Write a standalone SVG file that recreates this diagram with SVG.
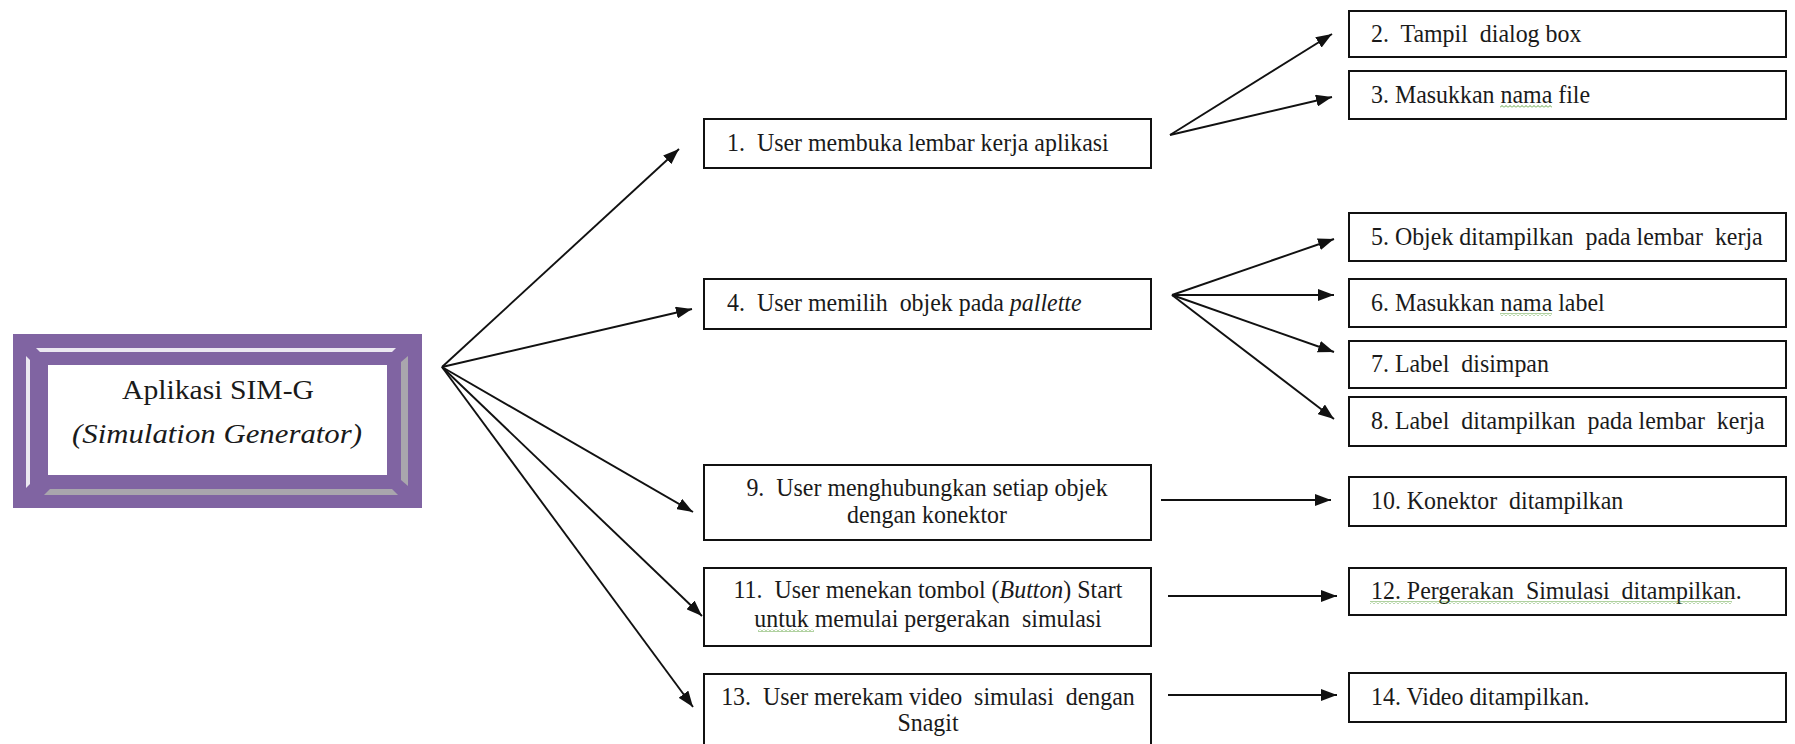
<svg xmlns="http://www.w3.org/2000/svg" width="1795" height="744" viewBox="0 0 1795 744">
<style>
.box{fill:#fff;stroke:#111;stroke-width:2}
.t{font-family:"Liberation Serif","Times New Roman",serif;font-size:26px;fill:#1a1a1a}
.c{text-anchor:middle}
.m{font-family:"Liberation Serif","Times New Roman",serif;font-size:27px;fill:#1a1a1a;text-anchor:middle}
.con line{stroke:#111;stroke-width:1.9;marker-end:url(#ah)}
.sq{fill:url(#sq)}
</style>
<defs>
<marker id="ah" viewBox="0 0 16 12" refX="16" refY="6" markerWidth="16" markerHeight="12" markerUnits="userSpaceOnUse" orient="auto">
<path d="M0,0 L16,6 L0,12 z" fill="#111"/>
</marker>
<pattern id="sq" width="4" height="3" patternUnits="userSpaceOnUse">
<path d="M0,2.5 L2,0.5 L4,2.5" fill="none" stroke="#4f9a2c" stroke-width="0.9"/>
</pattern>
</defs>
<rect width="1795" height="744" fill="#fff"/>

<g id="main">
<rect x="13" y="334" width="409" height="174" fill="#8064a2"/>
<polygon points="36,348 396,348 392,352 40,352" fill="#ebe8f1"/>
<polygon points="26,356 30,360 30,484 26,488" fill="#ebe8f1"/>
<polygon points="401,362 408,356 408,486 401,480" fill="#a9a6ad"/>
<polygon points="50,489 392,489 398,495 44,495" fill="#a9a6ad"/>
<rect x="48" y="365" width="339" height="110" fill="#fff"/>
<text class="m" x="218" y="399" textLength="192" lengthAdjust="spacingAndGlyphs">Aplikasi SIM-G</text>
<text class="m" x="217" y="443" font-style="italic" textLength="290" lengthAdjust="spacingAndGlyphs">(Simulation Generator)</text>
</g>

<g id="n1">
<rect class="box" x="704" y="119" width="447" height="49"/>
<text class="t" x="727" y="151" xml:space="preserve" transform="matrix(.92,0,0,1,58.16,0)">1.  User membuka lembar kerja aplikasi</text>
</g>
<g id="n2">
<rect class="box" x="1349" y="11" width="437" height="46"/>
<text class="t" x="1371" y="42" xml:space="preserve" transform="matrix(.92,0,0,1,109.68,0)">2.  Tampil  dialog box</text>
</g>
<g id="n3">
<rect class="box" x="1349" y="71" width="437" height="48"/>
<text class="t" x="1371" y="103" xml:space="preserve" transform="matrix(.92,0,0,1,109.68,0)">3. Masukkan nama file</text>
<rect class="sq" x="1500" y="105" width="52" height="3"/>
</g>
<g id="n4">
<rect class="box" x="704" y="279" width="447" height="50"/>
<text class="t" x="727" y="311" xml:space="preserve" transform="matrix(.92,0,0,1,58.16,0)">4.  User memilih  objek pada <tspan font-style="italic">pallette</tspan></text>
</g>
<g id="n5">
<rect class="box" x="1349" y="213" width="437" height="48"/>
<text class="t" x="1371" y="245" xml:space="preserve" transform="matrix(.92,0,0,1,109.68,0)">5. Objek ditampilkan  pada lembar  kerja</text>
</g>
<g id="n6">
<rect class="box" x="1349" y="279" width="437" height="48"/>
<text class="t" x="1371" y="311" xml:space="preserve" transform="matrix(.92,0,0,1,109.68,0)">6. Masukkan nama label</text>
<rect class="sq" x="1500" y="313" width="52" height="3"/>
</g>
<g id="n7">
<rect class="box" x="1349" y="341" width="437" height="47"/>
<text class="t" x="1371" y="372" xml:space="preserve" transform="matrix(.92,0,0,1,109.68,0)">7. Label  disimpan</text>
</g>
<g id="n8">
<rect class="box" x="1349" y="397" width="437" height="49"/>
<text class="t" x="1371" y="429" xml:space="preserve" transform="matrix(.92,0,0,1,109.68,0)">8. Label  ditampilkan  pada lembar  kerja</text>
</g>
<g id="n9">
<rect class="box" x="704" y="465" width="447" height="75"/>
<text class="t c" x="927" y="496" xml:space="preserve" transform="matrix(.92,0,0,1,74.16,0)">9.  User menghubungkan setiap objek</text>
<text class="t c" x="927" y="523" transform="matrix(.92,0,0,1,74.16,0)">dengan konektor</text>
</g>
<g id="n10">
<rect class="box" x="1349" y="477" width="437" height="49"/>
<text class="t" x="1371" y="509" xml:space="preserve" transform="matrix(.92,0,0,1,109.68,0)">10. Konektor  ditampilkan</text>
</g>
<g id="n11">
<rect class="box" x="704" y="568" width="447" height="78"/>
<text class="t c" x="928" y="598" xml:space="preserve" transform="matrix(.92,0,0,1,74.24,0)">11.  User menekan tombol (<tspan font-style="italic">Button</tspan>) Start</text>
<text class="t c" x="928" y="627" xml:space="preserve" transform="matrix(.92,0,0,1,74.24,0)">untuk memulai pergerakan  simulasi</text>
<rect class="sq" x="758" y="629" width="56" height="3"/>
</g>
<g id="n12">
<rect class="box" x="1349" y="568" width="437" height="47"/>
<text class="t" x="1371" y="599" xml:space="preserve" transform="matrix(.92,0,0,1,109.68,0)">12. Pergerakan  Simulasi  ditampilkan.</text>
<rect class="sq" x="1370" y="601" width="362" height="3"/>
</g>
<g id="n13">
<rect class="box" x="704" y="674" width="447" height="80"/>
<text class="t c" x="928" y="705" xml:space="preserve" transform="matrix(.92,0,0,1,74.24,0)">13.  User merekam video  simulasi  dengan</text>
<text class="t c" x="928" y="731" transform="matrix(.92,0,0,1,74.24,0)">Snagit</text>
</g>
<g id="n14">
<rect class="box" x="1349" y="673" width="437" height="49"/>
<text class="t" x="1371" y="705" xml:space="preserve" transform="matrix(.92,0,0,1,109.68,0)">14. Video ditampilkan.</text>
</g>

<g id="connectors" class="con">
<line x1="442" y1="367" x2="679" y2="149"/>
<line x1="442" y1="367" x2="692" y2="309"/>
<line x1="442" y1="367" x2="693" y2="512"/>
<line x1="442" y1="367" x2="702" y2="616"/>
<line x1="442" y1="367" x2="693" y2="707"/>
<line x1="1170" y1="135" x2="1332" y2="34"/>
<line x1="1170" y1="135" x2="1332" y2="97"/>
<line x1="1172" y1="295" x2="1334" y2="239"/>
<line x1="1172" y1="295" x2="1334" y2="295"/>
<line x1="1172" y1="295" x2="1334" y2="352"/>
<line x1="1172" y1="295" x2="1334" y2="419"/>
<line x1="1161" y1="500" x2="1331" y2="500"/>
<line x1="1168" y1="596" x2="1337" y2="596"/>
<line x1="1168" y1="695" x2="1337" y2="695"/>
</g>
</svg>
